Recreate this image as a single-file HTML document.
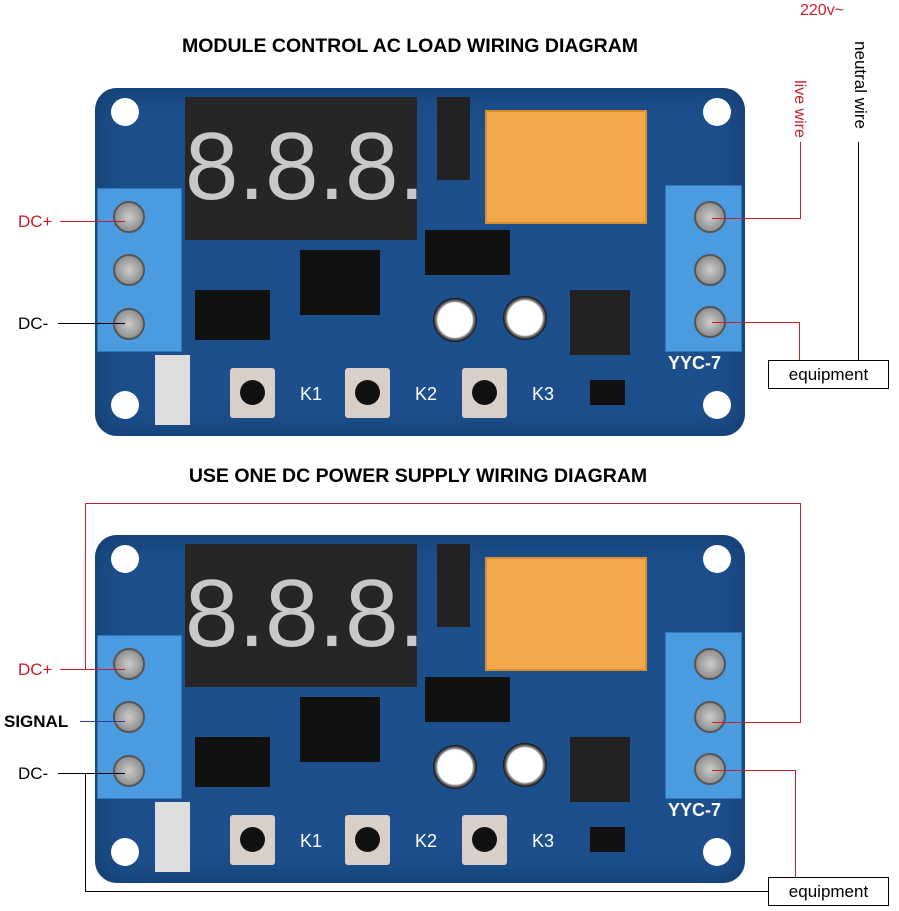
<!DOCTYPE html><html><head><style>
body{margin:0;width:899px;height:911px;background:#fff;position:relative;overflow:hidden;font-family:"Liberation Sans",sans-serif}
.a{position:absolute}
.board{position:absolute;width:650px;height:348px;background:#1d4f8c;border-radius:22px;box-shadow:inset 0 0 30px #123a6a}
.board div{position:absolute}
.hole{width:28px;height:28px;border-radius:50%;background:#fff;margin:-14px 0 0 -14px}
.disp{background:#262626;color:#c8c8c8;font-size:96px;line-height:140px;text-align:center;font-family:"Liberation Sans",sans-serif;overflow:hidden}
.relay{background:#f2a84a;border:2px solid #d98f30}
.term{background:#4a9be0;border:1px solid #2f78b8}
.screw{width:28px;height:28px;border-radius:50%;background:radial-gradient(#ccc,#777);margin:-14px 0 0 -14px;border:2px solid #555}
.btn{width:45px;height:50px;background:#d8d0c8;border-radius:3px}
.btn:after{content:"";position:absolute;left:10px;top:12px;width:25px;height:25px;border-radius:50%;background:#111}
.k{color:#fff;font-size:18px}
.cap{width:44px;height:44px;border-radius:50%;background:radial-gradient(#fff 55%,#888 60%,#111 70%);margin:-22px 0 0 -22px}
.chip{background:#111}
.lbl{position:absolute;font-size:17px}
.eq{position:absolute;border:1px solid #000;background:#fff;font-size:17px;text-align:center;line-height:27px;width:119px;height:27px}
.ln{position:absolute;background:#000}
.r{background:#c8202a}
.b{background:#2a3ea0}
</style></head><body>

<div class="a" style="left:0;width:820px;top:35px;text-align:center;font-weight:bold;font-size:19.5px">MODULE CONTROL AC LOAD WIRING DIAGRAM</div>
<div class="a" style="left:0;width:836px;top:465px;text-align:center;font-weight:bold;font-size:19.5px">USE ONE DC POWER SUPPLY WIRING DIAGRAM</div>

<div class="board" style="left:95px;top:88px">
<div class="hole" style="left:30px;top:24px"></div><div class="hole" style="left:622px;top:24px"></div>
<div class="hole" style="left:30px;top:317px"></div><div class="hole" style="left:622px;top:317px"></div>
<div class="disp" style="left:90px;top:9px;width:232px;height:143px">8.8.8.</div>
<div class="relay" style="left:390px;top:22px;width:158px;height:110px"></div>
<div class="chip" style="left:342px;top:9px;width:33px;height:83px;background:#222"></div>
<div class="term" style="left:2px;top:100px;width:83px;height:162px"></div>
<div class="screw" style="left:32px;top:127px"></div><div class="screw" style="left:32px;top:180px"></div><div class="screw" style="left:32px;top:234px"></div>
<div class="term" style="left:570px;top:97px;width:75px;height:165px"></div>
<div class="screw" style="left:613px;top:127px"></div><div class="screw" style="left:613px;top:180px"></div><div class="screw" style="left:613px;top:232px"></div>
<div class="chip" style="left:205px;top:162px;width:80px;height:65px"></div>
<div class="chip" style="left:330px;top:142px;width:85px;height:45px"></div>
<div class="chip" style="left:100px;top:202px;width:75px;height:50px"></div>
<div class="chip" style="left:475px;top:202px;width:60px;height:65px;background:#222"></div>
<div class="cap" style="left:360px;top:232px"></div><div class="cap" style="left:430px;top:230px"></div>
<div class="btn" style="left:135px;top:280px"></div><div class="btn" style="left:250px;top:280px"></div><div class="btn" style="left:367px;top:280px"></div>
<div class="k" style="left:205px;top:296px">K1</div><div class="k" style="left:320px;top:296px">K2</div><div class="k" style="left:437px;top:296px">K3</div>
<div style="left:573px;top:265px;color:#fff;font-weight:bold;font-size:18px">YYC-7</div>
<div class="chip" style="left:495px;top:292px;width:35px;height:25px"></div>
<div style="left:60px;top:267px;width:35px;height:70px;background:#ddd"></div>
</div>

<div class="board" style="left:95px;top:535px">
<div class="hole" style="left:30px;top:24px"></div><div class="hole" style="left:622px;top:24px"></div>
<div class="hole" style="left:30px;top:317px"></div><div class="hole" style="left:622px;top:317px"></div>
<div class="disp" style="left:90px;top:9px;width:232px;height:143px">8.8.8.</div>
<div class="relay" style="left:390px;top:22px;width:158px;height:110px"></div>
<div class="chip" style="left:342px;top:9px;width:33px;height:83px;background:#222"></div>
<div class="term" style="left:2px;top:100px;width:83px;height:162px"></div>
<div class="screw" style="left:32px;top:127px"></div><div class="screw" style="left:32px;top:180px"></div><div class="screw" style="left:32px;top:234px"></div>
<div class="term" style="left:570px;top:97px;width:75px;height:165px"></div>
<div class="screw" style="left:613px;top:127px"></div><div class="screw" style="left:613px;top:180px"></div><div class="screw" style="left:613px;top:232px"></div>
<div class="chip" style="left:205px;top:162px;width:80px;height:65px"></div>
<div class="chip" style="left:330px;top:142px;width:85px;height:45px"></div>
<div class="chip" style="left:100px;top:202px;width:75px;height:50px"></div>
<div class="chip" style="left:475px;top:202px;width:60px;height:65px;background:#222"></div>
<div class="cap" style="left:360px;top:232px"></div><div class="cap" style="left:430px;top:230px"></div>
<div class="btn" style="left:135px;top:280px"></div><div class="btn" style="left:250px;top:280px"></div><div class="btn" style="left:367px;top:280px"></div>
<div class="k" style="left:205px;top:296px">K1</div><div class="k" style="left:320px;top:296px">K2</div><div class="k" style="left:437px;top:296px">K3</div>
<div style="left:573px;top:265px;color:#fff;font-weight:bold;font-size:18px">YYC-7</div>
<div class="chip" style="left:495px;top:292px;width:35px;height:25px"></div>
<div style="left:60px;top:267px;width:35px;height:70px;background:#ddd"></div>
</div>

<div class="lbl" style="left:18px;top:212px;color:#c8202a">DC+</div>
<div class="ln r" style="left:60px;top:221px;width:65px;height:1px"></div>
<div class="lbl" style="left:18px;top:314px">DC-</div>
<div class="ln" style="left:58px;top:323px;width:67px;height:1px"></div>
<div class="lbl" style="left:800px;top:2px;color:#c8202a;font-size:16px">220v~</div>
<div class="lbl" style="left:759px;top:100px;color:#c8202a;font-size:16px;transform:rotate(90deg);width:80px;text-align:center">live wire</div>
<div class="lbl" style="left:810px;top:75px;font-size:17px;transform:rotate(90deg);width:100px;text-align:center">neutral wire</div>
<div class="ln r" style="left:800px;top:142px;width:1px;height:77px"></div>
<div class="ln r" style="left:712px;top:218px;width:89px;height:1px"></div>
<div class="ln" style="left:858px;top:142px;width:1px;height:218px"></div>
<div class="ln r" style="left:712px;top:322px;width:88px;height:1px"></div>
<div class="ln r" style="left:799px;top:322px;width:1px;height:38px"></div>
<div class="eq" style="left:768px;top:360px">equipment</div>

<div class="lbl" style="left:18px;top:660px;color:#c8202a">DC+</div>
<div class="ln r" style="left:60px;top:669px;width:65px;height:1px"></div>
<div class="ln r" style="left:85px;top:503px;width:1px;height:166px"></div>
<div class="ln r" style="left:85px;top:503px;width:716px;height:1px"></div>
<div class="ln r" style="left:800px;top:503px;width:1px;height:219px"></div>
<div class="ln r" style="left:712px;top:722px;width:89px;height:1px"></div>
<div class="lbl" style="left:4px;top:712px;font-weight:bold">SIGNAL</div>
<div class="ln b" style="left:80px;top:721px;width:45px;height:1px"></div>
<div class="lbl" style="left:18px;top:764px">DC-</div>
<div class="ln" style="left:58px;top:773px;width:67px;height:1px"></div>
<div class="ln" style="left:85px;top:773px;width:1px;height:118px"></div>
<div class="ln" style="left:85px;top:891px;width:683px;height:1px"></div>
<div class="ln r" style="left:712px;top:770px;width:83px;height:1px"></div>
<div class="ln r" style="left:795px;top:770px;width:1px;height:107px"></div>
<div class="eq" style="left:768px;top:877px">equipment</div>
</body></html>
